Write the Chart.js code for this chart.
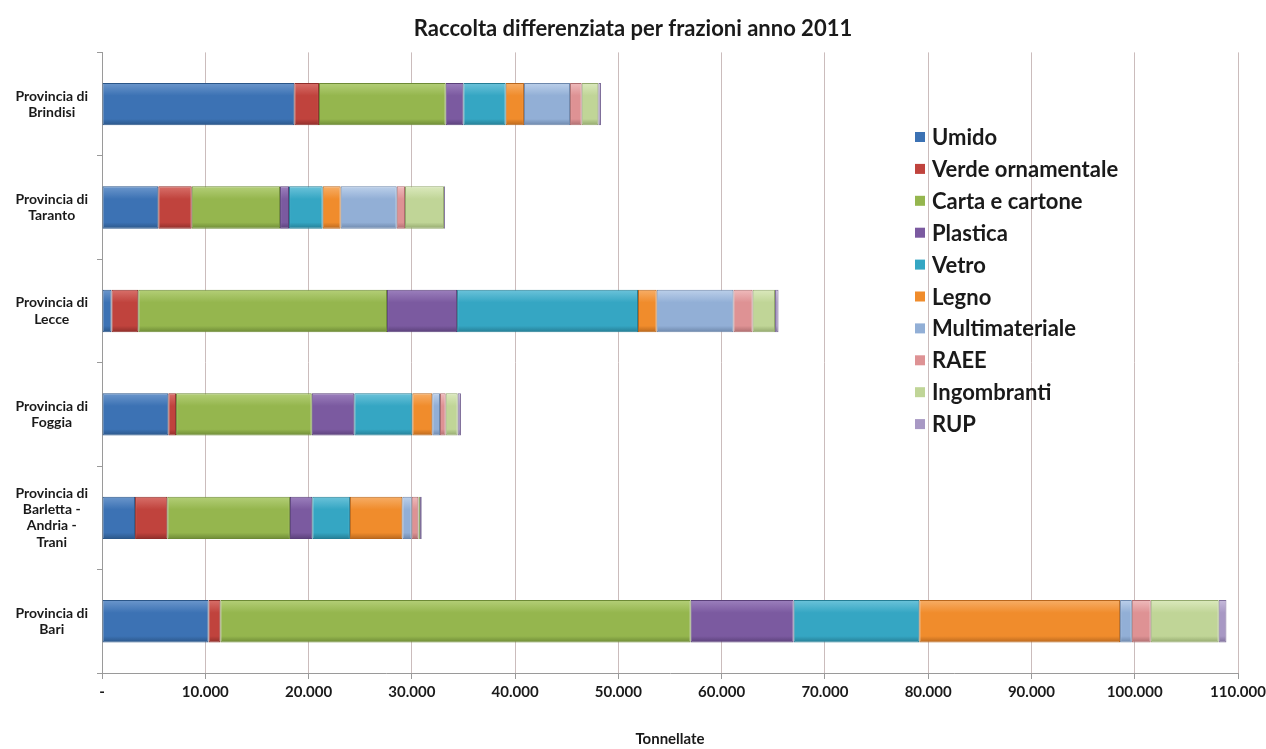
<!DOCTYPE html>
<html>
<head>
<meta charset="utf-8">
<script src="https://cdn.jsdelivr.net/npm/chart.js@4"></script>
<style>
  html, body { margin: 0; padding: 0; background: #fff; }
  #wrap { width: 1266px; height: 749px; }
</style>
</head>
<body>
<div id="wrap"><canvas id="chart"></canvas></div>
<script>
// Province (dall'alto in basso)
const province = [
  ['Provincia di', 'Brindisi'],
  ['Provincia di', 'Taranto'],
  ['Provincia di', 'Lecce'],
  ['Provincia di', 'Foggia'],
  ['Provincia di', 'Barletta -', 'Andria -', 'Trani'],
  ['Provincia di', 'Bari']
]

// Tonnellate per frazione
const umido       = [18620, 5450, 920, 6420, 3200, 10310]
const verde       = [2390, 3240, 2590, 750, 3120, 1150]
const carta       = [12270, 8550, 24090, 13140, 11880, 45540]
const plastica    = [1710, 870, 6780, 4120, 2160, 9970]
const vetro       = [4100, 3260, 17520, 5620, 3650, 12170]
const legno       = [1770, 1740, 1810, 1930, 5070, 19440]
const multi       = [4460, 5430, 7430, 750, 910, 1140]
const raee        = [1130, 800, 1860, 550, 640, 1830]
const ingombranti = [1610, 3780, 2170, 1160, 160, 6580]
const rup         = [260, 100, 340, 320, 170, 750]

const frazioni = ['Umido', 'Verde ornamentale', 'Carta e cartone', 'Plastica', 'Vetro',
  'Legno', 'Multimateriale', 'RAEE', 'Ingombranti', 'RUP']
const serie = [umido, verde, carta, plastica, vetro, legno, multi, raee, ingombranti, rup]
const colori = ['#3c72b4', '#c0433d', '#95b64e', '#7b5aa0', '#35a6c3',
  '#f08c2c', '#92afd6', '#de9294', '#c0d597', '#a898c4']
const chiari = ['#6c97cc', '#d8706a', '#b4cf78', '#9c80bd', '#6cc3da',
  '#f7ae67', '#bcd0ea', '#efbbbc', '#dbe9bd', '#c6badb']
const bordi = ['#2b5688', '#8e2e2a', '#6d8a36', '#5a4079', '#257d94',
  '#b8671d', '#6d87ab', '#ad6d6f', '#93a86d', '#7f6f9a']

const PERC_BARRA = 0.41
const fmt = v => v === 0 ? '-' : String(v).replace(/\B(?=(\d{3})+(?!\d))/g, '.')

// sfumatura verticale stile Excel, calcolata per ogni barra
function sfumatura(i) {
  return c => {
    const chart = c.chart
    const y = chart.scales.y
    if (!chart.chartArea || !y || c.dataIndex === undefined) return colori[i]
    const centro = y.getPixelForValue(c.dataIndex)
    const meta = (chart.chartArea.bottom - chart.chartArea.top) / province.length * PERC_BARRA / 2
    const g = chart.ctx.createLinearGradient(0, centro - meta, 0, centro + meta)
    g.addColorStop(0, chiari[i])
    g.addColorStop(0.3, colori[i])
    g.addColorStop(0.85, colori[i])
    g.addColorStop(1, bordi[i])
    return g
  }
}

// legenda disegnata dentro l'area del grafico
const legendaInterna = {
  id: 'legendaInterna',
  afterDraw(chart) {
    const ctx = chart.ctx
    ctx.save()
    ctx.font = 'bold 22px Lato'
    ctx.textBaseline = 'middle'
    frazioni.forEach((nome, i) => {
      const y = 137 + i * 31.9
      ctx.fillStyle = colori[i]
      ctx.fillRect(915, y - 5, 10, 10)
      ctx.fillStyle = '#1a1a1a'
      ctx.fillText(nome, 932, y + 1)
    })
    ctx.restore()
  }
}

const datasets = frazioni.map((nome, i) => ({
  label: nome,
  data: serie[i],
  backgroundColor: sfumatura(i),
  borderColor: bordi[i],
  borderWidth: 1,
  borderSkipped: false,
  categoryPercentage: PERC_BARRA,
  barPercentage: 1
}))

new Chart(document.getElementById('chart'), {
  type: 'bar',
  data: { labels: province, datasets },
  plugins: [legendaInterna],
  options: {
    indexAxis: 'y',
    responsive: true,
    maintainAspectRatio: false,
    animation: false,
    layout: { padding: { left: 0, right: 0, top: 0, bottom: 0 } },
    plugins: {
      legend: { display: false },
      tooltip: { enabled: false },
      title: {
        display: true,
        text: 'Raccolta differenziata per frazioni anno 2011',
        color: '#1a1a1a',
        font: { family: 'Lato', size: 22, weight: 'bold' },
        padding: { top: 16, bottom: 10 }
      }
    },
    scales: {
      x: {
        stacked: true,
        min: 0,
        max: 110000,
        afterFit: s => { s.paddingRight = 28 },
        ticks: {
          stepSize: 10000,
          color: '#1a1a1a',
          font: { family: 'Lato', size: 15, weight: 'bold' },
          padding: 4,
          maxRotation: 0,
          callback: v => fmt(v)
        },
        grid: {
          color: '#cbbcbc',
          tickLength: 6,
          tickColor: '#9a9a9a'
        },
        border: { display: true, color: '#9a9a9a' },
        title: {
          display: true,
          text: 'Tonnellate',
          color: '#1a1a1a',
          font: { family: 'Lato', size: 15, weight: 'bold' },
          padding: { top: 25, bottom: 1 }
        }
      },
      y: {
        stacked: true,
        afterFit: s => { s.width = 102 },
        ticks: {
          color: '#1a1a1a',
          crossAlign: 'center',
          padding: 9,
          font: { family: 'Lato', size: 14, weight: 'bold', lineHeight: 1.15 }
        },
        grid: {
          drawOnChartArea: false,
          tickLength: 5,
          tickColor: '#9a9a9a'
        },
        border: { display: true, color: '#9a9a9a' }
      }
    }
  }
})
</script>
</body>
</html>
